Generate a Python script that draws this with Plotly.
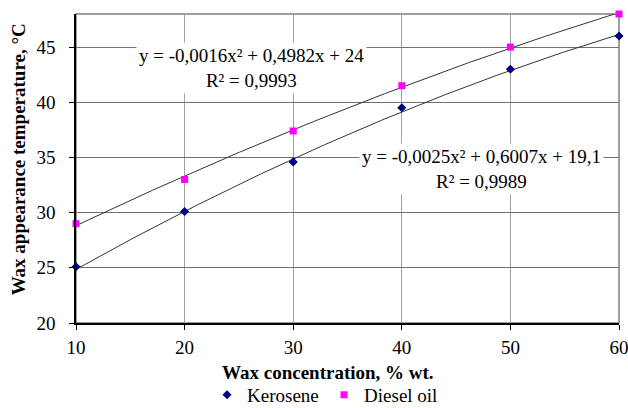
import numpy as np
import plotly.graph_objects as go

concentration = [10, 20, 30, 40, 50, 60]
kerosene = [25.1, 30.1, 34.6, 39.5, 43.0, 46.0]
diesel = [29.0, 33.0, 37.4, 41.5, 45.0, 48.0]

# trendline coefficients (a*x^2 + b*x + c) as shown on the chart
diesel_coef = [-0.0016, 0.4982, 24.0]
kerosene_coef = [-0.0025, 0.6007, 19.1]
diesel_eq = "y = -0,0016x² + 0,4982x + 24<br>R² = 0,9993"
kerosene_eq = "y = -0,0025x² + 0,6007x + 19,1<br>R² = 0,9989"

x_title = "<b>Wax concentration, % wt.</b>"
y_title = "<b>Wax appearance temperature, °C</b>"

x_ticks = [10, 20, 30, 40, 50, 60]
y_ticks = [20, 25, 30, 35, 40, 45]

FONT = "Liberation Serif, Times New Roman, serif"
FS = 19

xs = np.linspace(min(concentration), max(concentration), 200)

fig = go.Figure()
for coef in (diesel_coef, kerosene_coef):
    fig.add_trace(go.Scatter(
        x=xs, y=np.polyval(coef, xs), mode="lines",
        line=dict(color="#333333", width=1), showlegend=False, hoverinfo="skip"))

fig.add_trace(go.Scatter(
    x=concentration, y=kerosene, mode="markers", name="Kerosene",
    marker=dict(symbol="diamond", size=7, color="#000080"), cliponaxis=False))
fig.add_trace(go.Scatter(
    x=concentration, y=diesel, mode="markers", name="Diesel oil",
    marker=dict(symbol="square", size=7, color="#FF00FF"), cliponaxis=False))

fig.add_annotation(x=26.2, y=43.1, text=diesel_eq, showarrow=False,
                   font=dict(family=FONT, size=FS, color="black"),
                   bgcolor="white", borderpad=2, align="center")
fig.add_annotation(x=47.3, y=34.0, text=kerosene_eq, showarrow=False,
                   font=dict(family=FONT, size=FS, color="black"),
                   bgcolor="white", borderpad=2, align="center")

# axis titles
fig.add_annotation(xref="paper", yref="paper", x=0.464, y=-0.159, text=x_title,
                   showarrow=False, xanchor="center", yanchor="middle",
                   font=dict(family=FONT, size=FS, color="black"))
fig.add_annotation(xref="paper", yref="paper", x=-0.106, y=0.531, text=y_title,
                   showarrow=False, xanchor="center", yanchor="middle", textangle=-90,
                   font=dict(family=FONT, size=FS, color="black"))

fig.add_shape(type="rect", xref="paper", yref="paper", x0=0, y0=0, x1=1, y1=1,
              line=dict(color="#808080", width=1.5), layer="below")

fig.update_layout(
    width=628, height=408,
    margin=dict(l=76, r=9, t=14, b=85, autoexpand=False),
    paper_bgcolor="white", plot_bgcolor="white",
    font=dict(family=FONT, size=FS, color="black"),
    showlegend=True,
    legend=dict(orientation="h", xref="container", x=0.516, xanchor="center",
                yref="container", y=0.032, yanchor="middle",
                font=dict(family=FONT, size=FS), itemwidth=30,
                entrywidth=72, entrywidthmode="pixels",
                tracegroupgap=0),
    xaxis=dict(range=[10, 60], tickvals=x_ticks, showgrid=True, gridcolor="#a0a0a0",
               gridwidth=1, showline=True, linecolor="black", linewidth=1.5,
               ticks="outside", ticklen=5, tickcolor="black", zeroline=False,
               ticklabelstandoff=1, ticklabeloverflow="allow", automargin=False),
    yaxis=dict(range=[20, 48], tickvals=y_ticks, showgrid=True, gridcolor="#707070",
               gridwidth=1, showline=True, linecolor="black", linewidth=1.5,
               ticks="outside", ticklen=5, tickcolor="black", zeroline=False,
               ticklabelstandoff=10, automargin=False),
)

fig.write_html("out.html")
